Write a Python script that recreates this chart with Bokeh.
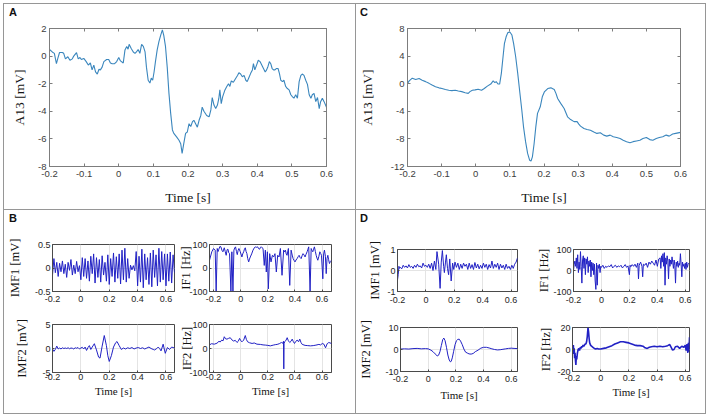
from bokeh.plotting import figure
from bokeh.models import Range1d, FixedTicker, LinearAxis, Spacer, Div
from bokeh.layouts import row, column
from bokeh.embed import file_html
from bokeh.resources import INLINE

SERIF = "Liberation Serif"
SANS = "Liberation Sans"

# ---------------- tick values / labels ----------------
MAIN_XTICKS = [-0.2, -0.1, 0, 0.1, 0.2, 0.3, 0.4, 0.5, 0.6]
MAIN_XLABELS = ["-0.2", "-0.1", "0", "0.1", "0.2", "0.3", "0.4", "0.5", "0.6"]
A_YTICKS = [-8, -6, -4, -2, 0, 2]
A_YLABELS = ["-8", "-6", "-4", "-2", "0", "2"]
C_YTICKS = [-12, -8, -4, 0, 4, 8]
C_YLABELS = ["-12", "-8", "-4", "0", "4", "8"]
SUB_XTICKS = [-0.2, 0, 0.2, 0.4, 0.6]
SUB_XLABELS = ["-0.2", "0", "0.2", "0.4", "0.6"]

# ---------------- panel A: channel A13 (noisy) ----------------
A_t = [-0.200, -0.192, -0.186, -0.180, -0.176, -0.171, -0.163, -0.159, -0.154, -0.147,
       -0.141, -0.134, -0.130, -0.122, -0.117, -0.112, -0.108, -0.101, -0.094, -0.088,
       -0.082, -0.077, -0.072, -0.067, -0.062, -0.057, -0.053, -0.048, -0.043, -0.035,
       -0.029, -0.024, -0.019, -0.012, -0.006, 0.000, 0.005, 0.013, 0.018, 0.023,
       0.027, 0.030, 0.036, 0.042, 0.047, 0.051, 0.056, 0.061, 0.066, 0.071,
       0.076, 0.080, 0.085, 0.090, 0.094, 0.098, 0.102, 0.106, 0.111, 0.116,
       0.121, 0.126, 0.130, 0.135, 0.140, 0.145, 0.150, 0.155, 0.159, 0.167,
       0.174, 0.179, 0.183, 0.188, 0.193, 0.198, 0.203, 0.208, 0.213, 0.217,
       0.222, 0.227, 0.232, 0.237, 0.241, 0.246, 0.254, 0.261, 0.266, 0.270,
       0.275, 0.280, 0.285, 0.289, 0.292, 0.296, 0.300, 0.306, 0.312, 0.317,
       0.321, 0.325, 0.331, 0.338, 0.343, 0.347, 0.352, 0.357, 0.362, 0.367,
       0.371, 0.376, 0.381, 0.386, 0.389, 0.393, 0.398, 0.403, 0.408, 0.413,
       0.418, 0.423, 0.427, 0.431, 0.435, 0.439, 0.443, 0.447, 0.451, 0.455,
       0.460, 0.464, 0.468, 0.473, 0.477, 0.482, 0.487, 0.492, 0.497, 0.502,
       0.506, 0.511, 0.516, 0.521, 0.526, 0.530, 0.535, 0.540, 0.545, 0.550,
       0.555, 0.559, 0.564, 0.569, 0.574, 0.579, 0.583, 0.588, 0.593, 0.600]
A_v = [0.48, 0.30, 0.20, -0.55, -0.17, 0.26, 0.26, 0.20, -0.20, -0.05,
       -0.30, -0.20, 0.00, 0.25, -0.20, -0.10, -0.25, -0.17, -0.40, -0.65,
       -0.50, -1.00, -0.65, -1.15, -1.30, -0.95, -1.00, -0.80, -0.40, -0.25,
       -0.25, -0.50, -0.55, -0.55, -0.40, -0.10, -0.35, -0.50, 0.45, 0.70,
       0.50, 0.85, 0.55, 0.30, 0.20, 0.30, 0.48, 0.20, 0.85, 0.70,
       0.30, -0.80, -1.75, -1.95, -1.60, -1.75, -1.15, -0.40, 0.45, 1.05,
       1.50, 1.90, 1.50, 0.70, -0.80, -2.70, -4.15, -5.35, -5.60, -5.85,
       -6.10, -6.35, -7.05, -6.30, -5.60, -5.50, -4.90, -5.10, -4.75, -4.65,
       -4.90, -5.15, -4.65, -4.30, -3.70, -4.00, -4.30, -4.40, -3.90, -3.00,
       -3.55, -3.80, -3.55, -3.07, -2.45, -3.45, -2.95, -2.50, -2.20, -2.00,
       -2.20, -1.80, -1.90, -1.60, -1.40, -1.20, -1.30, -1.50, -1.40, -1.75,
       -1.85, -1.55, -1.25, -1.00, -0.55, -1.00, -0.65, -0.30, -0.40, -0.65,
       -0.90, -1.15, -1.00, -0.75, -0.40, -0.55, -0.90, -1.00, -1.00, -0.90,
       -0.90, -1.25, -1.75, -1.85, -1.75, -2.20, -2.35, -2.45, -2.80, -2.95,
       -3.05, -2.80, -3.05, -1.85, -1.40, -1.30, -1.40, -1.75, -2.05, -2.80,
       -3.05, -2.80, -2.70, -3.30, -3.00, -3.80, -3.30, -3.05, -3.30, -3.70]

# ---------------- panel C: channel A13 (clean) ----------------
C_t = [-0.200, -0.195, -0.186, -0.176, -0.166, -0.157, -0.147, -0.137, -0.128, -0.118,
       -0.108, -0.099, -0.089, -0.079, -0.070, -0.060, -0.051, -0.041, -0.031, -0.022,
       -0.017, -0.010, -0.002, 0.007, 0.017, 0.025, 0.034, 0.044, 0.051, 0.056,
       0.060, 0.065, 0.070, 0.075, 0.080, 0.084, 0.089, 0.094, 0.100, 0.106,
       0.111, 0.117, 0.123, 0.129, 0.135, 0.140, 0.146, 0.152, 0.158, 0.162,
       0.166, 0.171, 0.176, 0.181, 0.189, 0.195, 0.201, 0.211, 0.220, 0.230,
       0.235, 0.240, 0.249, 0.259, 0.269, 0.278, 0.288, 0.297, 0.302, 0.307,
       0.317, 0.326, 0.336, 0.346, 0.355, 0.365, 0.375, 0.384, 0.394, 0.403,
       0.413, 0.423, 0.432, 0.442, 0.452, 0.461, 0.471, 0.481, 0.490, 0.500,
       0.510, 0.519, 0.529, 0.538, 0.548, 0.558, 0.567, 0.577, 0.586, 0.600]
C_v = [0.05, 0.40, 0.80, 0.60, 0.75, 0.50, 0.30, 0.05, -0.20, -0.45,
       -0.60, -0.70, -0.85, -0.95, -1.00, -0.95, -1.05, -1.15, -1.30, -1.40,
       -1.15, -0.95, -0.90, -0.80, -0.95, -0.70, -0.35, -0.05, 0.40, 0.15,
       0.30, -0.05, -0.05, 1.50, 3.90, 5.80, 6.80, 7.40, 7.50, 7.05,
       5.80, 3.90, 1.50, -1.20, -3.85, -6.25, -8.40, -10.10, -11.10, -11.20,
       -10.60, -8.70, -6.25, -4.30, -3.35, -1.90, -1.20, -0.70, -0.60, -0.85,
       -1.40, -2.15, -2.85, -3.60, -4.80, -5.20, -5.50, -5.50, -5.85, -6.15,
       -6.50, -6.65, -6.75, -7.00, -7.20, -7.10, -7.45, -7.60, -7.45, -7.70,
       -7.80, -7.95, -8.20, -8.40, -8.55, -8.40, -8.30, -8.20, -7.95, -7.80,
       -8.10, -8.20, -7.95, -7.80, -7.70, -7.45, -7.60, -7.30, -7.20, -7.05]

# ---------------- panel B: IMF1 / IF1 / IMF2 / IF2 ----------------
B_imf1_t = [-0.20, -0.19, -0.18, -0.17, -0.16, -0.15, -0.14, -0.13, -0.12, -0.11,
            -0.10, -0.09, -0.08, -0.07, -0.06, -0.05, -0.04, -0.03, -0.02, -0.01,
            0.00, 0.01, 0.02, 0.03, 0.04, 0.05, 0.06, 0.07, 0.08, 0.09,
            0.10, 0.11, 0.12, 0.13, 0.14, 0.15, 0.16, 0.17, 0.18, 0.19,
            0.20, 0.21, 0.22, 0.23, 0.24, 0.25, 0.26, 0.27, 0.28, 0.29,
            0.30, 0.31, 0.32, 0.33, 0.34, 0.35, 0.36, 0.37, 0.38, 0.39,
            0.40, 0.41, 0.42, 0.43, 0.44, 0.45, 0.46, 0.47, 0.48, 0.49,
            0.50, 0.51, 0.52, 0.53, 0.54, 0.55, 0.56, 0.57, 0.58, 0.59,
            0.60, 0.61, 0.62, 0.63, 0.64, 0.65, 0.66]
B_imf1_v = [-0.15, 0.20, -0.10, 0.12, -0.18, 0.10, -0.08, 0.15, -0.12, 0.08,
            -0.20, 0.12, -0.05, 0.18, -0.15, 0.06, -0.12, 0.14, -0.08, 0.05,
            -0.25, 0.22, -0.18, 0.20, -0.22, 0.15, -0.28, 0.25, -0.12, 0.30,
            -0.32, 0.22, -0.20, 0.18, -0.30, 0.26, -0.15, 0.12, -0.28, 0.28,
            -0.35, 0.20, -0.18, 0.32, -0.30, 0.24, -0.22, 0.30, -0.34, 0.38,
            -0.25, 0.42, -0.30, 0.20, -0.22, 0.06, -0.04, 0.05, -0.06, 0.35,
            -0.38, 0.25, -0.30, 0.40, -0.42, 0.30, -0.25, 0.22, -0.35, 0.32,
            -0.40, 0.38, -0.20, 0.28, -0.38, 0.42, -0.30, 0.35, -0.25, 0.30,
            -0.38, 0.30, -0.28, 0.34, -0.32, 0.28, -0.10]

B_if1_t = [-0.230, -0.213, -0.200, -0.188, -0.181, -0.173, -0.167, -0.161, -0.153, -0.146,
           -0.138, -0.131, -0.121, -0.114, -0.107, -0.100, -0.094, -0.088, -0.082, -0.072,
           -0.065, -0.057, -0.050, -0.044, -0.038, -0.031, -0.025, -0.019, -0.013, -0.003,
           0.009, 0.015, 0.022, 0.028, 0.034, 0.040, 0.046, 0.052, 0.059, 0.065,
           0.071, 0.081, 0.091, 0.100, 0.108, 0.116, 0.125, 0.133, 0.140, 0.146,
           0.152, 0.158, 0.165, 0.174, 0.182, 0.189, 0.197, 0.204, 0.214, 0.224,
           0.234, 0.243, 0.253, 0.263, 0.273, 0.283, 0.293, 0.305, 0.317, 0.324,
           0.330, 0.336, 0.342, 0.352, 0.362, 0.372, 0.380, 0.387, 0.394, 0.401,
           0.408, 0.416, 0.424, 0.431, 0.438, 0.446, 0.453, 0.460, 0.468, 0.475,
           0.482, 0.490, 0.496, 0.502, 0.512, 0.520, 0.526, 0.532, 0.538, 0.544,
           0.551, 0.557, 0.563, 0.569, 0.577, 0.584, 0.590, 0.596, 0.606, 0.612,
           0.618, 0.625, 0.631, 0.637, 0.643, 0.649, 0.655, 0.662, 0.670]
B_if1_v = [33, 69, 83, 76, -100, 83, 70, 80, 92, 90,
           75, 69, 86, 70, 54, 78, 80, 65, 61, -100,
           69, -100, 76, 85, 90, 70, 57, 75, 83, 69,
           47, 60, 69, 80, 86, 70, 61, 40, 26, 38,
           47, 60, 76, 85, 90, 88, 90, 82, 80, 88,
           90, 86, 83, 11, 76, -17, 69, -89, 61, 26,
           54, 47, 61, -17, 54, 47, 83, -31, 76, 68,
           76, 60, 54, 83, -74, 76, 55, 40, 32, 26,
           34, 40, 48, 54, 45, 40, 52, 61, 55, 47,
           58, 69, 80, 90, -100, 83, 75, 69, 80, 90,
           70, 54, 42, 33, 50, 69, 62, 54, -46, 60,
           76, 50, -24, 40, 54, 35, 19, 28, 33]

B_imf2_t = [-0.200, -0.190, -0.180, -0.170, -0.160, -0.150, -0.140, -0.130, -0.120, -0.110,
            -0.100, -0.090, -0.080, -0.070, -0.060, -0.050, -0.040, -0.030, -0.020, -0.010,
            0.000, 0.010, 0.020, 0.030, 0.040, 0.050, 0.060, 0.070, 0.080, 0.095,
            0.110, 0.125, 0.135, 0.150, 0.165, 0.180, 0.190, 0.200, 0.215, 0.230,
            0.245, 0.255, 0.270, 0.285, 0.300, 0.315, 0.330, 0.345, 0.360, 0.375,
            0.390, 0.405, 0.420, 0.435, 0.450, 0.465, 0.480, 0.495, 0.510, 0.520,
            0.535, 0.545, 0.555, 0.565, 0.580, 0.595, 0.610, 0.625, 0.640, 0.660]
B_imf2_v = [-0.1, -0.6, -0.2, 0.5, -0.1, 0.1, -0.1, 0.15, 0.0, 0.1,
            0.0, 0.15, -0.05, 0.1, 0.05, -0.1, 0.15, 0.05, 0.2, -0.1,
            0.1, 0.25, -0.1, 0.3, -0.4, 0.2, 0.6, -0.2, 0.3, 1.0,
            -0.3, -1.8, -2.0, 0.5, 2.7, 0.6, -1.5, -2.7, -1.5, 0.3,
            1.2, 1.45, 0.6, -0.2, 0.1, -0.1, 0.15, 0.0, 0.2, -0.1,
            0.1, 0.2, 0.0, 0.15, -0.1, 0.1, 0.3, 0.0, -0.2, -0.3,
            0.0, 0.3, 0.0, -0.5, 0.9, -1.0, 0.2, -0.2, 0.3, 0.1]

B_if2_t = [-0.230, -0.215, -0.195, -0.175, -0.160, -0.151, -0.140, -0.130, -0.121, -0.111,
           -0.101, -0.090, -0.077, -0.065, -0.052, -0.040, -0.027, -0.018, -0.008, 0.000,
           0.010, 0.022, 0.034, 0.042, 0.051, 0.065, 0.084, 0.100, 0.120, 0.145,
           0.165, 0.185, 0.200, 0.219, 0.240, 0.255, 0.269, 0.285, 0.300, 0.310,
           0.316, 0.318, 0.320, 0.325, 0.335, 0.343, 0.352, 0.362, 0.371, 0.380,
           0.389, 0.397, 0.407, 0.417, 0.427, 0.436, 0.445, 0.454, 0.475, 0.495,
           0.515, 0.535, 0.555, 0.577, 0.590, 0.602, 0.614, 0.626, 0.638, 0.650, 0.670]
B_if2_v = [15, 20, 18, 22, 30, 27, 35, 32, 49, 40,
           39, 42, 45, 36, 31, 34, 25, 30, 42, 33,
           28, 35, 54, 38, 28, 24, 21, 23, 18, 17,
           15, 14, 13, 11, 14, 16, 17, 20, 25, 22,
           30, -85, 20, 28, 35, 45, 32, 25, 30, 39,
           28, 21, 30, 35, 28, 39, 25, 17, 13, 12,
           11, 12, 14, 17, 15, 21, 18, 3, 20, 25, 21]

# ---------------- panel D: IMF1 / IF1 / IMF2 / IF2 ----------------
D_imf1_t = [-0.200, -0.195, -0.190, -0.185, -0.180, -0.170, -0.160, -0.150, -0.140, -0.130,
            -0.120, -0.110, -0.100, -0.090, -0.080, -0.070, -0.060, -0.050, -0.040, -0.030,
            -0.020, -0.010, 0.000, 0.010, 0.020, 0.030, 0.040, 0.050, 0.060, 0.070,
            0.078, 0.090, 0.100, 0.108, 0.116, 0.125, 0.130, 0.138, 0.144, 0.152,
            0.160, 0.168, 0.178, 0.188, 0.196, 0.205, 0.215, 0.225, 0.235, 0.245,
            0.255, 0.265, 0.275, 0.285, 0.295, 0.305, 0.315, 0.325, 0.335, 0.345,
            0.355, 0.365, 0.375, 0.385, 0.395, 0.405, 0.415, 0.425, 0.435, 0.445,
            0.455, 0.465, 0.475, 0.485, 0.495, 0.505, 0.515, 0.525, 0.535, 0.545,
            0.555, 0.565, 0.575, 0.585, 0.595, 0.605, 0.615, 0.625, 0.635, 0.645]
D_imf1_v = [-0.45, -0.2, 0.2, 0.1, 0.15, 0.08, 0.25, 0.15, 0.22, 0.12,
            0.28, 0.15, 0.2, 0.1, 0.25, 0.15, 0.3, 0.18, 0.22, 0.12,
            0.35, 0.2, 0.25, 0.15, 0.3, 0.1, 0.35, 0.0, 0.45, 0.05,
            0.9, 0.3, -0.85, 0.4, 0.95, 0.2, -0.1, 0.4, 0.75, 0.1,
            -0.2, 0.55, -0.5, 0.35, 0.05, 0.4, 0.15, 0.35, 0.05, 0.3,
            0.1, 0.35, 0.2, 0.3, 0.05, 0.35, 0.1, 0.28, 0.05, 0.38,
            0.12, 0.3, 0.08, 0.25, 0.1, 0.35, 0.15, 0.3, 0.05, 0.28,
            0.12, 0.45, 0.1, 0.3, 0.15, 0.35, 0.05, 0.3, 0.12, 0.25,
            0.05, 0.3, 0.1, 0.2, 0.05, 0.25, 0.1, 0.3, 0.4, 0.6]

D_if1_t = [-0.200, -0.195, -0.190, -0.185, -0.180, -0.175, -0.170, -0.165, -0.160, -0.155,
           -0.150, -0.145, -0.140, -0.135, -0.130, -0.125, -0.120, -0.115, -0.110, -0.105,
           -0.100, -0.095, -0.090, -0.085, -0.080, -0.075, -0.070, -0.065, -0.060, -0.055,
           -0.050, -0.045, -0.040, -0.035, -0.030, -0.025, -0.020, -0.015, -0.010, -0.005,
           0.000, 0.010, 0.020, 0.030, 0.040, 0.050, 0.060, 0.070, 0.080, 0.090,
           0.100, 0.110, 0.120, 0.130, 0.140, 0.150, 0.160, 0.170, 0.180, 0.190,
           0.200, 0.205, 0.210, 0.220, 0.230, 0.240, 0.250, 0.260, 0.265, 0.270,
           0.280, 0.290, 0.295, 0.300, 0.310, 0.320, 0.330, 0.340, 0.350, 0.360,
           0.370, 0.380, 0.390, 0.400, 0.410, 0.420, 0.425, 0.430, 0.435, 0.440,
           0.445, 0.450, 0.455, 0.460, 0.465, 0.470, 0.475, 0.480, 0.485, 0.490,
           0.495, 0.500, 0.505, 0.510, 0.515, 0.520, 0.525, 0.530, 0.535, 0.540,
           0.545, 0.550, 0.555, 0.560, 0.565, 0.570, 0.575, 0.580, 0.585, 0.590,
           0.595, 0.600, 0.605, 0.610, 0.615, 0.620, 0.624]
D_if1_v = [0, 30, 45, 20, 60, 10, 75, -10, 40, 5,
           90, 20, -60, 50, 70, 10, 60, -20, 55, 30,
           65, -10, 45, 20, 50, -30, 40, 0, 35, -20,
           30, -50, -90, 35, -70, 25, 10, 30, -10, 20,
           15, 25, 10, 20, 15, 22, 18, 28, 12, 20,
           25, 15, 22, 18, 25, 12, 20, 28, 15, 22,
           -20, 25, 18, 28, 20, 30, 15, 35, -40, 25,
           40, 20, -30, 30, 25, 35, 15, 40, 30, 45,
           35, 25, 50, 20, 55, 60, 10, 70, 40, 80,
           20, 85, -70, 60, 30, 70, 45, -40, 55, 20,
           50, 30, 65, 40, 10, 50, 25, -60, 40, 20,
           45, 15, 35, 25, 80, 30, -30, 40, 20, 30,
           10, 35, 5, 40, 15, 30, 35]

D_imf2_t = [-0.200, -0.170, -0.140, -0.110, -0.080, -0.050, -0.020, 0.000, 0.020, 0.035,
            0.050, 0.065, 0.075, 0.085, 0.095, 0.105, 0.113, 0.122, 0.132, 0.142,
            0.152, 0.160, 0.166, 0.174, 0.184, 0.194, 0.204, 0.214, 0.224, 0.234,
            0.246, 0.258, 0.270, 0.282, 0.295, 0.310, 0.325, 0.340, 0.360, 0.380,
            0.400, 0.420, 0.440, 0.460, 0.480, 0.500, 0.520, 0.540, 0.560, 0.580,
            0.600, 0.620, 0.645]
D_imf2_v = [0.2, 0.3, 0.2, 0.4, 0.5, 0.3, 0.4, 0.3, -0.3, -1.0,
            -2.0, -2.9, -2.6, -1.0, 1.8, 4.5, 5.2, 4.0, 1.0, -2.5,
            -4.8, -5.6, -5.4, -3.8, -0.8, 2.2, 4.0, 4.6, 4.7, 3.8,
            2.2, 0.2, -1.2, -1.6, -2.0, -2.1, -1.8, -1.0, -0.3, 0.6,
            1.0, 1.0, 0.7, 0.3, 0.0, -0.2, -0.1, 0.1, 0.3, 0.5,
            0.6, 0.5, 0.4]

D_if2_t = [-0.200, -0.197, -0.194, -0.191, -0.188, -0.185, -0.182, -0.179, -0.176, -0.173,
           -0.170, -0.165, -0.160, -0.155, -0.150, -0.145, -0.140, -0.135, -0.130, -0.125,
           -0.120, -0.115, -0.110, -0.105, -0.100, -0.095, -0.090, -0.086, -0.082, -0.078,
           -0.072, -0.065, -0.055, -0.045, -0.035, -0.025, -0.015, 0.000, 0.020, 0.040,
           0.060, 0.080, 0.100, 0.120, 0.140, 0.160, 0.180, 0.200, 0.220, 0.240,
           0.260, 0.280, 0.300, 0.315, 0.330, 0.345, 0.360, 0.380, 0.400, 0.420,
           0.440, 0.460, 0.475, 0.490, 0.500, 0.510, 0.520, 0.530, 0.545, 0.560,
           0.575, 0.590, 0.600, 0.606, 0.612, 0.618, 0.622, 0.626, 0.630, 0.635]
D_if2_v = [3, -2, 4, -4, 1, -8, -3, -10, -14, -6,
           -9, -3, 0, 1, -1, 2, 1, 3, 2, 4,
           3, 4, 5, 5, 7, 12, 20, 16, 10, 6,
           4, 3, 2, 1, 0.5, 1, 0.5, 0.5, 1, 1.5,
           2.5, 3.5, 5, 6, 7, 7, 6.5, 6, 5, 4,
           3.5, 3.5, 3, 1.5, 1, 2, 2.5, 3, 2.5, 3,
           2.5, 3, 3.5, 4.5, 2, -0.5, 0, 2.5, 3, 1,
           3, 2, 4, -1, 5, -3, 6, -2, 11, 1]

# ---------------- styling ----------------
BORDER = "#969696"
MAIN_AX = "#7d7d7d"
SUB_AX = "#4a4a4a"
MAIN_LINE = "#3a86bd"
SUB_LINE = "#2121c4"


def base_fig(w, h, borders, xr, yr):
    l, r, t, b = borders
    p = figure(width=w, height=h, x_range=Range1d(*xr), y_range=Range1d(*yr),
               output_backend="svg", toolbar_location=None, title=None,
               min_border_left=l, min_border_right=r,
               min_border_top=t, min_border_bottom=b)
    p.border_fill_color = "white"
    p.background_fill_color = "white"
    return p


def style_axis(ax, tick_size, tick_color, line_color):
    ax.major_tick_in = 3
    ax.major_tick_out = 0
    ax.minor_tick_line_color = None
    ax.axis_line_color = line_color
    ax.major_tick_line_color = line_color
    ax.major_label_text_font = SANS
    ax.major_label_text_font_size = tick_size
    ax.major_label_text_color = tick_color
    ax.axis_label_text_font = SERIF
    ax.axis_label_text_font_style = "normal"
    ax.axis_label_text_color = "#141414"


def set_ticks(ax, ticks, labels):
    ax.ticker = FixedTicker(ticks=ticks)
    ax.major_label_overrides = dict(zip(ticks, labels))


def letter_strip(text, w, indent):
    # thin strip holding the bold panel letter (A, B, C, D)
    return Div(text=text, width=w, height=16, margin=0,
               styles={"font-family": SANS, "font-weight": "bold", "font-size": "11px",
                       "line-height": "16px", "color": "#111111",
                       "text-indent": f"{indent}px", "background-color": "white"})


def main_panel(w, h, borders, t, v, yr, yticks, ylabels, ylab_standoff):
    p = base_fig(w, h, borders, (-0.2, 0.6), yr)
    xa, ya = p.xaxis[0], p.yaxis[0]
    set_ticks(xa, MAIN_XTICKS, MAIN_XLABELS)
    set_ticks(ya, yticks, ylabels)
    for ax in (xa, ya):
        style_axis(ax, "9.5px", "#3c3c3c", MAIN_AX)
        ax.axis_label_text_font_size = "13.5px"
    xa.axis_label = "Time [s]"
    ya.axis_label = "A13 [mV]"
    xa.major_label_standoff = 4
    xa.axis_label_standoff = 10
    ya.major_label_standoff = 3
    ya.axis_label_standoff = ylab_standoff
    p.grid.visible = False
    p.outline_line_color = MAIN_AX
    # mirrored tick marks on the top and right edges (no labels)
    top = LinearAxis(ticker=FixedTicker(ticks=MAIN_XTICKS))
    right = LinearAxis(ticker=FixedTicker(ticks=yticks))
    for ax in (top, right):
        style_axis(ax, "1px", None, MAIN_AX)
        ax.major_label_standoff = 2
    p.add_layout(top, "above")
    p.add_layout(right, "right")
    p.line(t, v, line_color=MAIN_LINE, line_width=1.1)
    return p


def sub_panel(w, h, borders, xr, yr, yticks, ylabels, t, v, ylabel, ylab_std,
              x_std, xlabel=None, xlab_std=1, lw=1.0):
    p = base_fig(w, h, borders, xr, yr)
    xa, ya = p.xaxis[0], p.yaxis[0]
    set_ticks(xa, SUB_XTICKS, SUB_XLABELS)
    set_ticks(ya, yticks, ylabels)
    p.xgrid[0].ticker = xa.ticker
    p.ygrid[0].ticker = ya.ticker
    p.grid.grid_line_color = "#e4e4e4"
    for ax in (xa, ya):
        style_axis(ax, "9px", "#1e1e1e", SUB_AX)
        ax.major_tick_in = 2
    ya.axis_label = ylabel
    ya.axis_label_text_font_size = "12.5px"
    ya.major_label_standoff = 2
    ya.axis_label_standoff = ylab_std
    xa.major_label_standoff = x_std
    if xlabel:
        xa.axis_label = xlabel
        xa.axis_label_text_font_size = "11px"
        xa.axis_label_standoff = xlab_std
    p.outline_line_color = SUB_AX
    p.line(t, v, line_color=SUB_LINE, line_width=lw)
    return p


# ---------------- panels ----------------
figA = main_panel(351, 189, (45, 29, 8, 43), A_t, A_v, (-8, 2), A_YTICKS, A_YLABELS, 8)
figC = main_panel(349, 189, (47, 25, 8, 43), C_t, C_v, (-12, 8), C_YTICKS, C_YLABELS, 13)

B_IMF_X = (-0.2, 0.66)
B_IF_X = (-0.23, 0.67)
b11 = sub_panel(172, 84, (48, 2, 18, 19), B_IMF_X, (-0.5, 0.5), [-0.5, 0, 0.5], ["-0.5", "0", "0.5"],
                B_imf1_t, B_imf1_v, "IMF1 [mV]", 10, 4)
b12 = sub_panel(179, 84, (33, 24, 18, 18), B_IF_X, (-100, 100), [-100, 0, 100], ["-100", "0", "100"],
                B_if1_t, B_if1_v, "IF1 [Hz]", -7, 4)
b21 = sub_panel(172, 103, (48, 2, 14, 41), B_IMF_X, (-5, 5), [-5, 0, 5], ["-5", "0", "5"],
                B_imf2_t, B_imf2_v, "IMF2 [mV]", 10, 1, "Time [s]", 2)
b22 = sub_panel(179, 103, (33, 24, 14, 41), B_IF_X, (-100, 100), [-100, 0, 100], ["-100", "0", "100"],
                B_if2_t, B_if2_v, "IF2 [Hz]", -8, 1, "Time [s]", 2)

D_IMF_X = (-0.2, 0.645)
D_IF_X = (-0.2, 0.63)
d11 = sub_panel(174, 88, (41, 13, 17, 23), D_IMF_X, (-1, 1), [-1, 0, 1], ["-1", "0", "1"],
                D_imf1_t, D_imf1_v, "IMF1 [mV]", 2, 5)
d12 = sub_panel(175, 88, (43, 16, 23, 18), D_IF_X, (-100, 100), [-100, 0, 100], ["-100", "0", "100"],
                D_if1_t, D_if1_v, "IF1 [Hz]", -1, 5)
d21 = sub_panel(174, 99, (41, 13, 9, 42), D_IMF_X, (-10, 10), [-10, 0, 10], ["-10", "0", "10"],
                D_imf2_t, D_imf2_v, "IMF2 [mV]", 9, 4, "Time [s]", 4)
d22 = sub_panel(175, 99, (42, 16, 13, 37), D_IF_X, (-20, 20), [-20, 0, 20], ["-20", "0", "20"],
                D_if2_t, D_if2_v, "IF2 [Hz]", 1, 3, "Time [s]", 2, lw=1.6)


def vline(h):
    return Spacer(width=1, height=h, styles={"background-color": BORDER})


def hline(w):
    return Spacer(width=w, height=1, styles={"background-color": BORDER})


panelA = column(letter_strip("A", 351, 5), figA)
panelC = column(letter_strip("C", 349, 4), figC)
panelB = column(letter_strip("B", 351, 5), row(b11, b12), row(b21, b22))
panelD = column(letter_strip("D", 349, 4), row(d11, d12), row(d21, d22))

grid = column(
    hline(703),
    row(vline(205), panelA, vline(205), panelC, vline(205)),
    hline(703),
    row(vline(203), panelB, vline(203), panelD, vline(203)),
    hline(703),
)

layout = column(Spacer(width=706, height=3), row(Spacer(width=3, height=411), grid))

open("out.html", "w").write(file_html(layout, INLINE, "EMD figure"))
